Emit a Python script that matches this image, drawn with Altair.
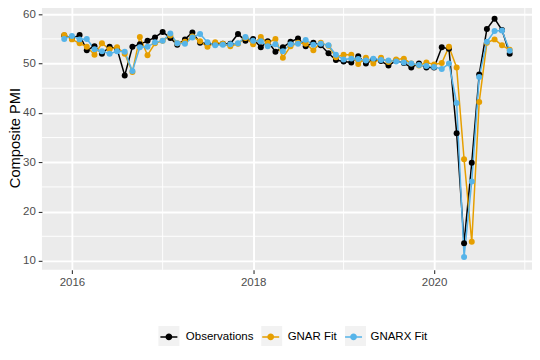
import altair as alt
import pandas as pd

# Monthly dates, Dec 2015 .. Nov 2020
months = pd.date_range("2015-12-01", "2020-11-01", freq="MS").strftime("%Y-%m-%d").tolist()

observations = [55.7, 55.1, 55.8, 52.7, 53.5, 52.0, 53.4, 53.0, 47.6, 53.4,
                53.9, 54.6, 55.3, 56.4, 55.2, 53.8, 54.9, 56.3, 54.2, 54.0,
                54.0, 54.0, 54.0, 56.0, 54.6, 55.0, 53.3, 54.5, 52.4, 53.3,
                54.4, 55.1, 53.5, 54.2, 53.7, 52.1, 50.7, 50.4, 50.2, 51.5,
                50.0, 50.8, 50.5, 49.6, 50.6, 50.1, 49.2, 50.0, 49.2, 49.2,
                53.3, 53.0, 35.9, 13.6, 29.9, 47.8, 57.0, 59.1, 56.8, 52.0]

gnar_fit = [55.8, 54.9, 54.1, 53.4, 51.8, 54.1, 52.9, 53.3, 52.0, 48.3,
            55.4, 51.7, 54.1, 54.6, 55.7, 54.1, 54.4, 55.5, 54.5, 53.4,
            54.3, 54.0, 53.5, 54.0, 55.2, 53.9, 55.4, 54.2, 55.0, 51.2,
            53.5, 54.2, 54.0, 52.7, 54.2, 53.6, 51.3, 51.8, 51.8, 49.9,
            51.2, 50.0, 51.2, 50.3, 50.8, 51.0, 50.0, 49.6, 50.2, 49.8,
            50.1, 53.4, 49.2, 30.6, 13.9, 42.2, 54.2, 54.9, 53.7, 52.8]

gnarx_fit = [55.0, 55.6, 54.9, 55.0, 52.9, 52.5, 52.0, 52.5, 52.4, 48.5,
             53.3, 53.4, 54.3, 54.6, 56.1, 54.1, 54.0, 55.3, 56.0, 54.3,
             53.7, 53.8, 53.9, 54.1, 55.4, 54.6, 54.5, 53.5, 53.9, 52.5,
             53.9, 54.0, 54.8, 53.8, 54.0, 53.7, 51.8, 50.8, 51.0, 50.9,
             50.6, 51.0, 50.7, 50.6, 50.4, 50.2, 50.0, 49.7, 49.5, 49.3,
             48.9, 50.0, 42.0, 10.8, 26.1, 47.3, 54.4, 56.6, 56.7, 52.6]

series_names = ["Observations", "GNAR Fit", "GNARX Fit"]
series_colors = ["#000000", "#E69F00", "#56B4E9"]

major_years = [2016, 2018, 2020]
minor_years = ["2017-01-01", "2019-01-01", "2021-01-01"]
major_y = [10, 20, 30, 40, 50, 60]
minor_y = [15, 25, 35, 45, 55]

rows = []
for k, (name, vals) in enumerate(zip(series_names, [observations, gnar_fit, gnarx_fit])):
    for m, v in zip(months, vals):
        rows.append({"date": m, "value": v, "series": name, "k": k})
df = pd.DataFrame(rows)

font = "Liberation Sans"
key_grey = "#F2F2F2"

x_scale = alt.Scale(type="utc",
                    domain=[alt.DateTime(year=2015, month=9, date=2, utc=True),
                            alt.DateTime(year=2021, month=1, date=30, utc=True)])
y_scale = alt.Scale(domain=[8.2, 61.8], zero=False, nice=False)

x_axis = alt.Axis(values=[alt.DateTime(year=y, month=1, date=1, utc=True) for y in major_years],
                  format="%Y", title=None)
y_axis = alt.Axis(values=major_y, title="Composite PMI", titlePadding=0)

x_main = alt.X("date:T", scale=x_scale, axis=x_axis)
y_main = alt.Y("value:Q", scale=y_scale, axis=y_axis)

minor_v = alt.Chart(pd.DataFrame({"date": minor_years})).mark_rule(
    color="white", strokeWidth=0.95).encode(x=x_main)
minor_h = alt.Chart(pd.DataFrame({"value": minor_y})).mark_rule(
    color="white", strokeWidth=0.95).encode(y=y_main)

LEG_X, LEG_Y = 115.7, 320.3
common_leg = dict(title=None, orient="none", direction="horizontal",
                  legendX=LEG_X, legendY=LEG_Y, symbolSize=441, gridAlign="each",
                  symbolStrokeWidth=1.5, labelOffset=5.5, columnPadding=4)

legend_path = ("M-0.81,0L0.81,0"
               "M-0.25,0a0.25,0.25 0 1,0 0.5,0a0.25,0.25 0 1,0 -0.5,0"
               "M-0.12,0a0.12,0.12 0 1,0 0.24,0a0.12,0.12 0 1,0 -0.24,0")
legend = alt.Legend(symbolType=legend_path, zindex=2, **common_leg)
color = alt.Color("series:N", scale=alt.Scale(domain=series_names, range=series_colors),
                  legend=legend)

# grey key boxes behind the legend symbols (a second, label-less legend)
key_names = [n + " " for n in series_names]
key_legend = alt.Legend(labelOpacity=0, labelExpr="trim(datum.label)",
                        symbolFillColor=key_grey, symbolStrokeColor=key_grey,
                        symbolOpacity=1, zindex=1, **common_leg)
keys = alt.Chart(pd.DataFrame({"key": key_names, "value": [100] * 3})).mark_point(
    filled=True, color=key_grey, clip=True, strokeWidth=0).encode(
    y=alt.Y("value:Q", scale=y_scale, axis=y_axis),
    shape=alt.Shape("key:N", scale=alt.Scale(domain=key_names, range=["square"] * 3),
                    legend=key_legend),
)

lines = alt.Chart(df).mark_line(strokeWidth=1.5).encode(
    x=x_main, y=y_main, color=color,
    detail="series:N",
    order=alt.Order("date:T"),
)

points = alt.Chart(df).mark_circle(size=36, opacity=1).encode(
    x=x_main, y=y_main, color=color,
)

chart = alt.layer(minor_v, minor_h, keys, lines, points).properties(
    width=491, height=265,
    autosize=alt.AutoSizeParams(type="none"),
    padding={"left": 34, "top": -3, "right": 0, "bottom": 76},
).configure_view(
    fill="#EBEBEB", stroke=None
).configure_axis(
    domain=False, grid=True, gridColor="white", gridWidth=1.9,
    tickColor="#333333", tickSize=3.7, tickWidth=1.1,
    labelColor="#4D4D4D", labelFont=font, labelFontSize=11.5, labelPadding=2.9,
    titleFont=font, titleFontSize=14.7, titleColor="black", titleFontWeight="normal",
).configure_legend(
    labelFont=font, labelFontSize=11.5, labelColor="black", padding=0,
)

chart.save("out.html", embed_options={"renderer": "svg", "actions": False})
